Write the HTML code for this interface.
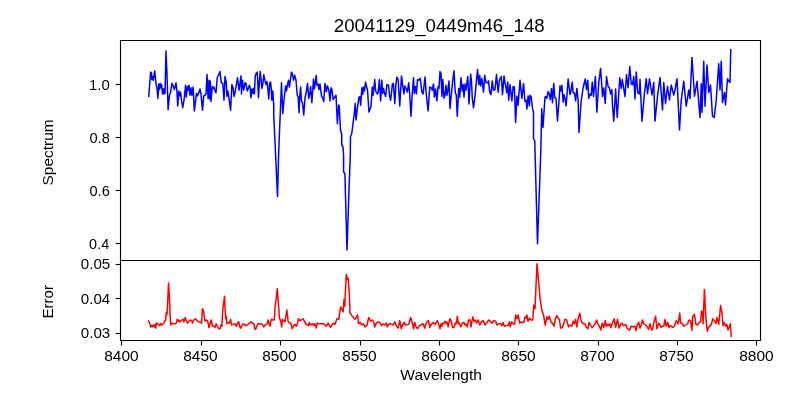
<!DOCTYPE html>
<html><head><meta charset="utf-8"><style>
html,body{margin:0;padding:0;background:#fff;}
body{width:800px;height:400px;overflow:hidden;}
svg{display:block;font-family:"Liberation Sans", sans-serif;fill:#000;will-change:transform;}
</style></head><body>
<svg width="800" height="400" viewBox="0 0 800 400">
<rect width="800" height="400" fill="#fff"/>
<polyline points="148.75,96.25 150.62,72.12 151.50,72.75 151.88,79.62 152.50,76.50 153.12,80.25 153.75,77.75 154.75,70.88 155.62,80.25 156.25,85.25 156.88,87.12 157.88,98.38 158.75,84.00 159.38,89.62 160.25,83.38 161.00,87.75 161.62,84.62 162.50,94.00 163.12,89.00 163.75,94.00 164.38,88.38 165.00,93.38 166.00,51.00 166.88,71.50 168.12,109.62 169.38,95.88 170.62,92.12 171.88,83.38 173.12,85.88 174.38,89.62 176.00,82.75 176.88,90.88 177.75,105.88 178.75,90.88 179.75,95.88 180.62,92.12 181.50,100.25 182.75,107.75 184.00,100.25 185.62,85.25 186.25,97.12 187.50,86.50 188.12,90.25 189.00,85.25 190.00,95.25 191.00,87.75 191.88,95.25 193.12,87.12 194.38,110.88 195.62,100.25 196.50,93.38 197.50,95.88 199.00,92.12 200.00,89.00 201.00,94.00 202.50,110.25 203.75,95.88 205.00,95.25 206.00,94.00 207.00,74.62 208.12,98.38 209.00,80.25 209.75,99.00 210.25,80.88 211.00,101.50 212.25,86.50 213.12,88.38 214.00,87.12 215.00,90.88 216.00,92.75 217.25,77.75 218.12,75.88 220.00,71.50 221.25,82.75 222.75,83.38 224.00,100.25 225.00,76.50 226.25,82.12 226.88,96.50 227.75,90.88 228.75,96.50 230.62,110.25 231.88,84.62 233.12,87.75 234.00,96.50 235.25,91.50 237.50,77.75 239.00,90.25 241.00,75.88 241.50,94.00 242.50,80.25 243.75,90.25 245.00,82.75 246.00,83.38 247.25,90.88 248.12,89.00 249.38,85.25 250.00,87.12 251.00,97.75 251.88,89.00 252.75,93.38 253.50,88.38 254.38,94.00 255.25,75.88 256.25,73.38 257.25,72.12 258.50,97.75 259.38,81.50 260.25,71.50 261.88,88.38 262.75,84.62 263.75,74.62 265.00,80.88 266.00,84.62 266.88,81.50 267.75,87.12 268.75,99.00 269.75,82.75 270.62,82.12 271.25,89.00 271.88,100.25 272.75,90.88 273.75,105.25 273.75,115.00 277.50,196.50 278.75,150.00 280.00,120.00 281.50,82.75 282.75,113.75 284.00,100.25 285.62,85.88 286.50,90.88 287.50,84.62 288.50,80.25 289.38,87.12 291.50,72.12 292.50,74.00 293.50,80.25 294.75,75.25 296.00,80.25 297.25,95.25 298.12,96.50 299.00,112.75 299.75,96.50 300.62,87.12 301.50,101.50 302.50,102.75 303.75,115.00 305.00,97.75 306.25,92.12 307.50,83.38 308.75,98.38 309.75,94.00 310.62,86.50 311.88,102.75 313.50,79.00 314.38,89.00 316.25,75.25 316.88,85.25 318.12,84.00 319.00,89.62 320.00,84.00 321.50,95.88 322.75,98.38 323.75,101.50 325.00,83.38 326.25,91.50 327.50,85.88 329.00,90.88 330.00,100.88 331.00,87.75 331.88,89.00 333.12,99.62 334.75,97.12 336.00,95.25 337.40,123.75 338.60,105.00 339.20,106.00 340.50,130.00 341.75,135.00 341.75,145.00 343.00,147.00 343.60,155.00 343.60,171.90 344.90,173.75 347.00,250.00 349.00,190.00 350.30,155.00 350.50,136.25 351.75,133.75 354.25,113.75 355.25,103.38 356.00,120.00 357.50,107.75 358.75,97.75 359.75,96.50 360.62,105.25 361.88,87.75 362.75,94.62 363.50,87.12 364.38,90.88 365.62,82.12 366.50,86.50 367.50,90.25 369.00,112.12 371.00,106.50 372.25,87.12 373.12,95.25 374.75,79.62 375.62,90.88 377.25,94.00 378.12,92.75 379.38,79.62 380.62,100.88 381.88,80.25 382.50,93.38 383.50,88.38 384.38,92.75 385.62,96.50 386.88,84.62 388.50,85.25 389.38,94.62 390.62,100.25 392.50,83.38 393.50,84.00 394.75,103.38 396.00,83.38 396.88,77.12 398.12,79.62 399.75,105.88 401.50,75.88 402.50,84.62 404.00,94.00 404.75,85.88 406.25,89.00 407.25,92.12 408.75,82.75 409.75,95.25 411.00,116.25 412.25,94.00 413.50,77.75 414.38,93.38 415.62,86.50 416.50,94.00 417.50,79.62 418.75,80.25 420.25,78.38 421.88,92.12 423.12,94.00 425.00,77.12 426.25,94.00 428.12,110.88 429.75,87.12 431.25,87.75 432.25,90.25 433.50,84.00 434.38,97.12 435.62,89.00 436.88,100.88 438.12,86.50 439.00,88.38 440.00,71.50 441.00,73.38 441.88,96.50 442.75,79.62 444.00,98.38 445.00,95.25 446.00,85.25 446.88,95.25 447.75,90.88 449.00,80.88 450.00,108.38 451.88,89.00 452.75,80.25 454.00,70.88 455.25,92.75 456.25,94.62 457.25,116.25 458.75,88.38 459.75,97.12 461.00,77.75 462.25,90.88 463.12,84.62 464.00,97.12 465.00,84.00 466.00,90.25 466.88,82.75 467.75,76.50 469.00,104.00 470.62,74.00 471.50,81.50 472.25,97.75 473.50,107.75 475.00,95.88 477.50,69.62 478.75,84.62 479.75,75.25 480.62,85.88 481.88,78.38 483.50,92.12 484.75,75.25 486.00,82.75 487.50,82.75 488.50,80.88 489.75,92.12 491.00,94.62 492.25,80.88 493.50,90.25 495.00,89.62 496.50,74.62 498.12,92.12 499.38,80.25 501.25,76.50 502.50,94.62 504.00,75.88 505.62,85.88 506.88,92.75 507.75,82.12 508.75,100.25 510.00,84.62 511.88,100.88 513.12,86.50 514.38,87.12 515.62,122.50 516.88,95.88 518.12,105.25 520.00,80.25 521.88,98.38 523.50,83.38 525.00,101.50 526.25,100.25 526.88,109.00 528.12,95.88 529.38,105.88 530.00,95.25 531.25,97.12 532.50,108.38 533.50,112.12 533.50,138.50 534.75,141.00 537.50,243.75 540.75,152.50 541.75,108.75 543.00,127.50 545.00,97.12 546.00,96.50 546.88,98.38 548.12,91.50 549.38,94.62 550.25,99.62 551.50,88.38 552.50,102.75 553.75,83.38 554.75,97.75 556.00,98.38 557.50,121.00 558.75,104.00 560.00,85.88 561.00,90.88 561.88,85.25 563.12,102.12 564.00,94.62 565.00,98.38 566.00,105.88 566.88,95.88 568.12,79.00 570.00,94.62 571.00,90.88 572.25,82.12 573.12,92.75 574.38,92.75 575.62,100.88 576.88,88.38 578.12,100.25 579.00,132.50 581.00,102.75 583.12,87.75 585.25,79.00 586.50,89.62 587.75,80.25 588.75,98.38 590.00,94.00 591.25,95.25 592.25,82.12 593.50,96.50 595.38,76.50 596.88,112.12 598.75,82.75 600.62,68.38 602.50,96.50 603.75,87.75 605.25,103.38 606.50,76.50 608.12,86.50 609.38,87.75 610.62,94.00 611.88,89.62 612.50,105.25 613.75,121.25 615.62,89.00 616.50,105.25 617.25,117.50 619.75,77.75 621.25,88.38 622.25,79.62 623.50,87.12 625.00,96.50 626.50,74.62 628.12,87.75 629.75,66.50 631.25,84.00 632.50,84.62 633.75,76.50 635.00,99.00 636.25,72.12 637.75,92.75 639.38,94.00 640.00,79.62 642.00,121.25 644.50,92.50 646.25,78.75 647.50,93.75 649.50,78.75 652.00,95.00 653.75,82.50 655.00,121.25 657.50,96.25 660.00,77.50 662.50,110.00 663.75,82.50 665.50,103.75 667.50,86.25 669.50,100.00 671.25,85.00 673.75,95.00 675.00,90.00 677.00,78.75 679.50,130.00 681.25,100.00 683.75,81.25 686.25,106.25 688.75,90.00 690.00,98.75 692.00,57.50 694.50,96.25 697.00,81.25 700.00,117.50 701.25,83.75 702.00,112.50 703.75,61.25 705.00,106.25 707.00,65.00 708.75,92.50 710.50,85.00 712.50,116.25 714.25,117.50 716.25,100.00 718.75,63.75 720.00,90.00 721.25,61.25 722.50,102.50 724.50,92.50 725.50,105.00 727.50,78.75 728.75,81.25 730.00,82.50 730.75,49.75" fill="none" stroke="#0000ff" stroke-width="1.5" stroke-linejoin="round" stroke-linecap="square"/>
<polyline points="148.50,321.00 150.00,323.75 150.62,326.88 151.88,325.62 152.50,326.88 153.50,325.00 154.38,326.88 155.25,324.38 155.75,328.12 156.50,323.12 157.50,323.50 158.75,324.75 159.75,325.62 160.62,323.50 161.88,325.00 163.12,323.75 164.38,321.88 165.62,320.00 166.25,312.50 166.88,315.00 167.50,306.25 168.50,283.12 169.38,297.50 170.00,312.50 170.62,325.00 171.88,323.12 173.12,323.75 175.00,323.75 176.25,323.12 177.25,319.38 178.12,321.25 179.00,320.00 180.00,321.88 181.88,320.00 183.12,319.38 184.00,321.88 185.25,317.50 186.25,320.62 187.50,323.12 189.38,320.62 190.62,320.00 191.88,321.25 192.50,323.12 193.75,320.00 195.62,318.75 196.88,320.62 198.75,321.88 200.62,322.50 201.50,323.12 202.50,308.75 203.50,310.62 204.38,317.50 205.00,321.25 206.25,320.00 207.50,320.62 208.12,323.12 209.00,327.50 210.00,323.75 211.25,320.00 212.50,326.25 213.75,326.25 215.00,327.50 216.25,323.75 217.50,326.25 218.75,328.75 220.00,328.75 221.00,325.00 221.88,326.25 222.75,310.00 224.50,296.25 225.62,318.75 226.25,316.25 226.88,323.75 228.12,322.50 229.38,323.12 230.62,319.38 231.50,325.00 233.12,324.38 235.00,323.75 236.50,326.25 237.50,323.12 238.75,321.88 240.00,327.50 240.62,328.12 241.88,325.62 243.12,323.75 244.38,324.38 245.62,325.62 247.50,325.00 249.38,323.12 251.00,321.88 252.50,323.12 253.75,323.75 255.00,329.38 256.25,328.12 257.75,323.75 260.00,323.75 262.50,324.38 263.75,326.88 265.00,325.00 266.88,324.38 268.12,320.00 269.00,323.75 270.00,326.25 271.25,319.38 273.12,320.00 274.38,320.00 275.00,307.50 276.25,298.75 277.25,288.75 278.12,300.00 279.38,317.50 280.25,320.00 281.00,322.50 281.62,326.88 282.50,319.38 283.75,320.62 285.00,321.88 286.88,310.00 288.12,321.25 289.38,323.12 290.62,323.12 292.25,328.75 293.75,325.62 295.00,324.38 296.25,326.25 297.25,324.38 298.50,318.75 299.75,320.62 301.25,320.00 303.12,318.75 304.38,321.25 306.25,324.38 308.12,325.62 309.38,322.50 310.25,325.00 312.50,323.75 313.75,325.62 315.00,323.75 316.25,328.12 317.25,323.12 318.75,323.75 321.25,323.75 323.75,323.75 326.25,326.25 328.12,323.12 330.62,327.50 333.12,323.12 335.00,324.38 336.88,318.75 338.75,319.38 340.62,306.88 343.12,311.88 344.00,299.38 344.75,306.25 346.25,274.38 347.25,279.38 348.12,278.12 349.38,294.38 350.00,312.50 351.88,315.62 355.00,319.38 357.50,315.00 358.12,319.38 358.50,323.75 360.00,322.50 361.88,325.00 363.50,323.75 365.00,326.88 366.88,325.62 368.75,317.50 370.62,321.25 372.25,320.00 373.50,321.88 374.75,326.88 376.25,323.12 378.12,321.88 380.00,322.50 381.50,325.62 383.12,323.75 384.75,325.00 386.25,323.12 387.25,326.88 389.00,323.75 391.25,323.75 393.12,325.00 394.75,321.88 396.25,325.62 398.12,328.12 399.75,320.62 401.25,328.75 402.50,325.00 404.00,322.50 405.62,325.00 408.75,324.38 410.62,317.50 412.25,322.50 413.50,328.75 414.75,322.50 416.00,326.88 417.50,328.75 419.38,325.62 421.00,325.00 423.12,323.75 424.75,328.12 426.25,323.12 428.50,320.62 429.75,327.50 431.25,324.38 433.12,322.50 435.00,324.38 437.25,320.62 438.75,324.38 440.00,328.75 441.00,323.75 441.88,326.25 442.75,323.12 443.75,323.75 444.75,321.25 446.00,323.12 446.88,321.88 448.12,326.88 449.75,318.75 451.25,321.25 452.50,327.50 454.00,327.50 455.62,322.50 456.50,323.75 457.25,316.25 458.50,323.75 459.38,323.12 460.62,326.88 462.25,323.12 464.00,322.50 465.00,325.00 466.25,324.38 467.25,326.88 468.50,320.00 470.00,320.00 471.00,326.88 472.75,316.88 474.00,321.25 475.25,320.00 476.50,323.12 478.12,320.00 479.75,325.00 481.25,321.88 483.12,320.62 485.00,325.00 486.88,322.50 488.75,320.00 490.62,321.88 492.25,323.12 493.50,320.62 495.62,321.25 496.88,325.00 498.75,323.75 500.62,323.75 501.88,325.62 503.12,322.50 504.38,326.25 506.25,325.62 508.50,325.00 509.38,321.88 510.25,326.88 511.88,321.88 513.75,324.38 514.75,323.75 515.62,315.00 516.88,318.75 518.12,315.00 519.75,323.12 521.25,321.88 522.50,322.50 523.75,322.50 525.00,316.88 526.00,318.12 526.88,315.00 528.12,321.25 529.75,318.12 531.00,320.00 532.75,320.00 533.75,305.00 535.00,308.75 537.00,263.75 540.00,297.50 540.62,302.50 541.88,310.62 543.50,315.00 545.25,325.00 546.88,316.88 548.12,319.38 549.38,316.25 551.25,322.50 552.50,323.12 554.00,326.25 555.25,319.38 556.88,315.62 558.50,318.75 559.38,319.38 560.62,328.12 562.25,327.50 563.75,323.75 565.00,319.38 566.50,319.38 568.50,326.88 570.00,325.00 571.88,326.25 573.12,321.25 574.38,323.75 575.62,319.38 576.88,326.88 578.12,318.75 579.75,313.12 581.25,321.25 583.12,323.75 584.75,323.75 586.25,326.88 587.75,328.75 589.00,322.50 590.62,325.62 592.25,327.50 593.75,325.62 595.25,323.75 596.62,320.00 598.12,324.38 599.38,326.25 600.88,330.00 602.25,323.12 603.75,327.50 605.25,320.62 606.25,326.25 607.50,324.38 608.75,325.62 609.75,323.75 611.00,327.50 612.50,322.50 614.12,318.75 615.62,327.50 617.50,319.38 619.00,328.12 620.62,324.38 621.88,323.12 623.50,325.62 625.62,324.38 627.50,328.75 629.75,330.00 631.25,326.25 633.12,326.88 635.00,326.25 636.00,330.62 637.25,325.00 638.75,322.50 640.00,328.12 641.25,325.00 642.50,320.00 643.75,323.75 645.62,325.00 646.88,326.25 648.50,329.38 650.00,323.75 651.50,330.00 652.50,329.38 654.00,321.88 655.62,316.25 656.88,328.75 658.75,323.12 660.00,325.00 661.25,327.50 662.50,326.25 663.75,326.25 665.00,319.38 666.25,326.25 667.75,322.50 669.00,327.50 670.00,325.62 671.50,326.25 672.75,327.50 674.38,326.25 676.25,320.62 678.12,323.75 679.75,313.12 680.62,323.12 681.88,323.12 683.75,326.25 685.62,325.00 687.50,323.75 689.00,320.00 690.62,320.62 691.88,330.62 692.75,316.25 694.38,314.38 696.00,324.38 697.50,325.00 698.75,323.12 700.62,321.88 701.50,311.25 702.50,311.88 703.12,323.75 704.38,289.38 706.00,319.38 707.25,331.25 708.75,326.88 710.00,326.25 711.50,323.75 712.75,318.75 714.38,320.62 716.00,323.75 716.88,317.50 718.75,324.38 720.62,305.62 721.88,312.50 723.12,325.62 724.00,322.50 725.62,326.25 726.88,324.38 728.12,330.00 729.12,327.50 730.25,323.75 731.25,336.25" fill="none" stroke="#ff0000" stroke-width="1.5" stroke-linejoin="round" stroke-linecap="square"/>
<path d="M120.5,40.5H760.5V340.5H120.5Z M120.5,260.5H760.5" fill="none" stroke="#000" stroke-width="1.11" stroke-linejoin="miter" stroke-linecap="square"/>
<line x1="115.64" y1="243.5" x2="120.5" y2="243.5" stroke="#000" stroke-width="1.11"/>
<text x="89.10" y="249.00" font-size="14.40" textLength="20.10" lengthAdjust="spacingAndGlyphs">0.4</text>
<line x1="115.64" y1="190.5" x2="120.5" y2="190.5" stroke="#000" stroke-width="1.11"/>
<text x="89.50" y="196.00" font-size="14.40" textLength="20.30" lengthAdjust="spacingAndGlyphs">0.6</text>
<line x1="115.64" y1="137.5" x2="120.5" y2="137.5" stroke="#000" stroke-width="1.11"/>
<text x="89.50" y="143.00" font-size="14.40" textLength="20.30" lengthAdjust="spacingAndGlyphs">0.8</text>
<line x1="115.64" y1="84.5" x2="120.5" y2="84.5" stroke="#000" stroke-width="1.11"/>
<text x="89.00" y="90.00" font-size="14.40" textLength="20.70" lengthAdjust="spacingAndGlyphs">1.0</text>
<line x1="115.64" y1="333.5" x2="120.5" y2="333.5" stroke="#000" stroke-width="1.11"/>
<text x="80.80" y="338.00" font-size="14.40" textLength="29.40" lengthAdjust="spacingAndGlyphs">0.03</text>
<line x1="115.64" y1="298.5" x2="120.5" y2="298.5" stroke="#000" stroke-width="1.11"/>
<text x="80.80" y="304.00" font-size="14.40" textLength="29.40" lengthAdjust="spacingAndGlyphs">0.04</text>
<line x1="115.64" y1="264.5" x2="120.5" y2="264.5" stroke="#000" stroke-width="1.11"/>
<text x="80.80" y="269.00" font-size="14.40" textLength="29.40" lengthAdjust="spacingAndGlyphs">0.05</text>
<line x1="121.5" y1="340.5" x2="121.5" y2="345.5" stroke="#000" stroke-width="1.11"/>
<text x="104.20" y="360.90" font-size="14.40" textLength="34.50" lengthAdjust="spacingAndGlyphs">8400</text>
<line x1="201.5" y1="340.5" x2="201.5" y2="345.5" stroke="#000" stroke-width="1.11"/>
<text x="183.20" y="360.90" font-size="14.40" textLength="34.50" lengthAdjust="spacingAndGlyphs">8450</text>
<line x1="280.5" y1="340.5" x2="280.5" y2="345.5" stroke="#000" stroke-width="1.11"/>
<text x="262.20" y="360.90" font-size="14.40" textLength="34.50" lengthAdjust="spacingAndGlyphs">8500</text>
<line x1="360.5" y1="340.5" x2="360.5" y2="345.5" stroke="#000" stroke-width="1.11"/>
<text x="342.20" y="360.90" font-size="14.40" textLength="34.50" lengthAdjust="spacingAndGlyphs">8550</text>
<line x1="439.5" y1="340.5" x2="439.5" y2="345.5" stroke="#000" stroke-width="1.11"/>
<text x="421.20" y="360.90" font-size="14.40" textLength="34.50" lengthAdjust="spacingAndGlyphs">8600</text>
<line x1="518.5" y1="340.5" x2="518.5" y2="345.5" stroke="#000" stroke-width="1.11"/>
<text x="501.20" y="360.90" font-size="14.40" textLength="34.50" lengthAdjust="spacingAndGlyphs">8650</text>
<line x1="598.5" y1="340.5" x2="598.5" y2="345.5" stroke="#000" stroke-width="1.11"/>
<text x="580.20" y="360.90" font-size="14.40" textLength="34.50" lengthAdjust="spacingAndGlyphs">8700</text>
<line x1="677.5" y1="340.5" x2="677.5" y2="345.5" stroke="#000" stroke-width="1.11"/>
<text x="659.20" y="360.90" font-size="14.40" textLength="34.50" lengthAdjust="spacingAndGlyphs">8750</text>
<line x1="756.5" y1="340.5" x2="756.5" y2="345.5" stroke="#000" stroke-width="1.11"/>
<text x="739.20" y="360.90" font-size="14.40" textLength="34.50" lengthAdjust="spacingAndGlyphs">8800</text>
<text x="333.80" y="32.10" font-size="18.90" textLength="210.80" lengthAdjust="spacingAndGlyphs">20041129_0449m46_148</text>
<text x="400.35" y="380.00" font-size="14.30" textLength="81.60" lengthAdjust="spacingAndGlyphs">Wavelength</text>
<text transform="translate(53.00,185.50) rotate(-90)" font-size="14.50" textLength="66.10" lengthAdjust="spacingAndGlyphs">Spectrum</text>
<text transform="translate(53.25,318.50) rotate(-90)" font-size="14.50" textLength="33.50" lengthAdjust="spacingAndGlyphs">Error</text>
</svg>
</body></html>
